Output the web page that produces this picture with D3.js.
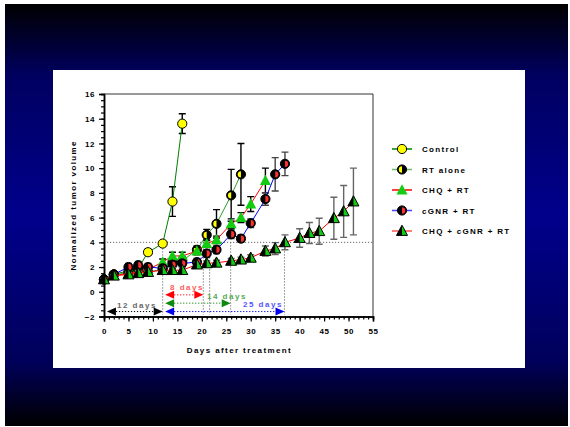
<!DOCTYPE html>
<html>
<head>
<meta charset="utf-8">
<script src="https://cdn.jsdelivr.net/npm/d3@7"></script>
<style>
  html, body { margin: 0; padding: 0; background: #fff; }
  svg { display: block; }
  text { font-family: "Liberation Sans", Arial, sans-serif; font-weight: bold; }
</style>
</head>
<body>
<div id="chart"></div>
<script>
// measurement days (Mon / Wed / Fri schedule)
const days = [0, 2, 5, 7, 9, 12, 14, 16, 19, 21, 23, 26, 28, 30, 33, 35, 37, 40, 42, 44, 47, 49, 51];

const controlMean = [1.0, 1.4, 1.7, 1.9, 3.2, 3.9, 7.3, 13.6];
const controlErr  = [0.1, 0.15, 0.2, 0.2, 0.25, 0.2, 1.2, 0.8];

const rtMean = [1.0, 1.4, 1.5, 1.8, 1.6, 1.8, 2.4, 2.5, 3.4, 4.6, 5.5, 7.8, 9.5];
const rtErr  = [0.1, 0.15, 0.25, 0.3, 0.25, 0.25, 0.3, 0.35, 0.3, 0.45, 1.15, 2.1, 2.5];

const chqMean = [1.0, 1.3, 1.5, 1.6, 1.8, 2.4, 2.9, 2.9, 3.3, 3.9, 4.2, 5.5, 6.0, 7.1, 9.0];
const chqErr  = [0.1, 0.15, 0.2, 0.2, 0.2, 0.25, 0.3, 0.3, 0.3, 0.3, 0.3, 0.4, 0.4, 0.6, 1.0];

const cgnrMean = [1.0, 1.4, 2.0, 2.15, 2.0, 1.9, 2.2, 2.3, 2.4, 3.1, 3.4, 4.65, 4.3, 5.55, 7.5, 9.5, 10.35];
const cgnrErr  = [0.1, 0.15, 0.3, 0.3, 0.3, 0.3, 0.3, 0.3, 0.3, 0.3, 0.3, 0.35, 0.3, 0.35, 0.5, 1.35, 0.95];

const tripleMean = [1.0, 1.3, 1.4, 1.5, 1.6, 1.75, 1.75, 1.75, 2.2, 2.3, 2.35, 2.5, 2.6, 2.75,
                    3.3, 3.5, 4.0, 4.35, 4.75, 4.9, 5.95, 6.5, 7.3];
const tripleErr  = [0.1, 0.1, 0.15, 0.15, 0.15, 0.2, 0.2, 0.2, 0.2, 0.2, 0.2, 0.2, 0.2, 0.25,
                    0.4, 0.48, 0.6, 0.75, 0.85, 1.05, 1.7, 2.1, 2.7];

const seriesNames = ["Control", "RT alone", "CHQ + RT", "cGNR + RT", "CHQ + cGNR + RT"];

// doubling-time annotations: [start day, end day, y level, label]
const spans = [
  { from: 0.6,  to: 12,   y: -1.6,  label: "12 days" },
  { from: 12.5, to: 20.3, y: -0.25, label: "8 days" },
  { from: 12.5, to: 25.9, y: -0.92, label: "14 days" },
  { from: 12.5, to: 36.9, y: -1.6,  label: "25 days" }
];
const crossDays = [12, 20.3, 21.6, 25.9, 36.9];
const threshold = 4;

const W = 570, H = 427;

const svg = d3.select("#chart").append("svg")
  .attr("width", W)
  .attr("height", H);

// background gradient + white panel
const grad = svg.append("defs").append("linearGradient")
  .attr("id", "bg").attr("x1", 0).attr("y1", 0).attr("x2", 0).attr("y2", 1);
grad.append("stop").attr("offset", "0%").attr("stop-color", "#000000");
grad.append("stop").attr("offset", "17%").attr("stop-color", "#000060");
grad.append("stop").attr("offset", "50%").attr("stop-color", "#00008c");
grad.append("stop").attr("offset", "85%").attr("stop-color", "#00005a");
grad.append("stop").attr("offset", "100%").attr("stop-color", "#000000");

svg.append("rect").attr("x", 5).attr("y", 4).attr("width", 563).attr("height", 422)
  .attr("fill", "url(#bg)");
svg.append("rect").attr("x", 53).attr("y", 70).attr("width", 472).attr("height", 298)
  .attr("fill", "#fff");

const x = d3.scaleLinear().domain([0, 55]).range([104, 373]);
const y = d3.scaleLinear().domain([-2, 16]).range([316.5, 94]);

const series = [
  { name: seriesNames[0], mean: controlMean, err: controlErr, line: "#008000", marker: "circle", fill: "#ffff00", bar: "#000" },
  { name: seriesNames[1], mean: rtMean, err: rtErr, line: "#2e9a2e", legendLine: "#6cb86c", marker: "halfCircle", fill: "#ffff00", bar: "#000" },
  { name: seriesNames[2], mean: chqMean, err: chqErr, line: "#ff0000", marker: "triangle", fill: "#11cc11", bar: "#000" },
  { name: seriesNames[3], mean: cgnrMean, err: cgnrErr, line: "#0000ff", legendLine: "#4444ff", marker: "halfCircleR", fill: "#ff3030", bar: "#444" },
  { name: seriesNames[4], mean: tripleMean, err: tripleErr, line: "#ff0000", legendLine: "#ff5050", marker: "halfTriangle", fill: "#11cc11", bar: "#666" }
];

/**
 * drawMarker(g, s, cx, cy):
 * Draws one symbol for a series at pixel position (cx, cy).
 */
function drawMarker(g, s, cx, cy) {
  const r = 4.6;
  const m = g.append("g").attr("transform", `translate(${cx},${cy})`);
  if (s.marker === "circle") {
    m.append("circle").attr("r", r).attr("fill", s.fill).attr("stroke", "#000").attr("stroke-width", 1);
  } else if (s.marker === "halfCircle" || s.marker === "halfCircleR") {
    m.append("circle").attr("r", r).attr("fill", "#000").attr("stroke", "#000").attr("stroke-width", 1);
    const arc = d3.arc().innerRadius(0).outerRadius(r - 1.4);
    // RT alone: yellow on the left, cGNR: red on the right
    const a = s.marker === "halfCircle" ? [Math.PI, 2 * Math.PI] : [0, Math.PI];
    m.append("path")
      .attr("d", arc({ startAngle: a[0], endAngle: a[1] }))
      .attr("fill", s.fill);
  } else {
    const tri = [[0, -5.8], [-5.5, 4.4], [5.5, 4.4]];
    if (s.marker === "triangle") {
      m.append("path").attr("d", d3.line()(tri) + "Z").attr("fill", s.fill);
    } else {
      m.append("path").attr("d", d3.line()(tri) + "Z").attr("fill", s.fill);
      m.append("path").attr("d", d3.line()([[0, -5.8], [-5.5, 4.4], [0, 4.4]]) + "Z").attr("fill", "#000");
      m.append("path").attr("d", d3.line()(tri) + "Z")
        .attr("fill", "none").attr("stroke", "#000").attr("stroke-width", 1);
    }
  }
}

// axes
function drawAxes() {
  const xAxis = d3.axisBottom(x).tickValues(d3.range(0, 56, 5)).tickSize(5).tickPadding(7);
  const xMinor = d3.axisBottom(x).tickValues(d3.range(0, 56, 1)).tickSize(3).tickFormat("");
  const yAxis = d3.axisLeft(y).tickValues(d3.range(-2, 17, 2)).tickSize(5).tickPadding(4);
  const yMinor = d3.axisLeft(y).tickValues(d3.range(-2, 16.1, 0.5)).tickSize(3).tickFormat("");

  const gx = svg.append("g").attr("transform", `translate(0,${y(-2)})`);
  gx.append("g").call(xMinor);
  gx.append("g").call(xAxis);
  const gy = svg.append("g").attr("transform", `translate(${x(0)},0)`);
  gy.append("g").call(yMinor);
  gy.append("g").call(yAxis);

  svg.selectAll(".domain").attr("stroke", "#000").attr("stroke-width", 1.5);
  svg.selectAll(".tick line").attr("stroke", "#000").attr("stroke-width", 1.2);
  svg.selectAll(".tick text")
    .attr("font-size", 8)
    .attr("font-weight", "bold")
    .attr("fill", "#000")
    .style("letter-spacing", "0.6px");

  // top and right frame
  svg.append("path")
    .attr("d", `M${x(0)},${y(16)}H${x(55)}V${y(-2)}`)
    .attr("fill", "none").attr("stroke", "#333").attr("stroke-width", 1);

  svg.append("text")
    .attr("transform", `translate(76,${(y(16) + y(-2)) / 2}) rotate(-90)`)
    .attr("text-anchor", "middle")
    .attr("font-size", 8)
    .style("letter-spacing", "1.4px")
    .text("Normalized tumor volume");

  svg.append("text")
    .attr("x", (x(0) + x(55)) / 2 + 1)
    .attr("y", 353)
    .attr("text-anchor", "middle")
    .attr("font-size", 8)
    .style("letter-spacing", "1.4px")
    .text("Days after treatment");
}

// threshold and crossing guide lines
function drawGuides() {
  const g = svg.append("g").attr("stroke", "#666").attr("stroke-width", 1).attr("stroke-dasharray", "1.2,1.8");
  g.append("line").attr("x1", x(0)).attr("x2", x(55)).attr("y1", y(threshold)).attr("y2", y(threshold));
  crossDays.forEach(d => {
    g.append("line").attr("x1", x(d)).attr("x2", x(d))
      .attr("y1", y(threshold)).attr("y2", y(-1.85));
  });
}

function drawSpans() {
  const colors = ["#000", "#ff0000", "#118811", "#0000ee"];
  const textColors = ["#666", "#ff5c5c", "#55aa55", "#5555ff"];
  const head = 9, half = 4;
  spans.forEach((s, i) => {
    const x1 = x(s.from), x2 = x(s.to), yy = y(s.y);
    const g = svg.append("g");
    g.append("line").attr("x1", x1 + head).attr("x2", x2 - head).attr("y1", yy).attr("y2", yy)
      .attr("stroke", colors[i]).attr("stroke-width", 1).attr("stroke-dasharray", "1.2,1.8");
    g.append("path").attr("d", `M${x1},${yy}L${x1 + head},${yy - half}L${x1 + head},${yy + half}Z`).attr("fill", colors[i]);
    g.append("path").attr("d", `M${x2},${yy}L${x2 - head},${yy - half}L${x2 - head},${yy + half}Z`).attr("fill", colors[i]);
  });
  const labelPos = [[117, 307.5], [170, 290], [207, 298.5], [243, 307]];
  spans.forEach((s, i) => {
    svg.append("text")
      .attr("x", labelPos[i][0]).attr("y", labelPos[i][1])
      .attr("font-size", 8)
      .attr("fill", textColors[i])
      .style("letter-spacing", "1.5px")
      .text(s.label);
  });
}

function drawSeries() {
  series.forEach(s => {
    const pts = s.mean.map((v, i) => ({ d: days[i], v, e: s.err[i] }));
    const g = svg.append("g");
    // error bars
    pts.forEach(p => {
      const bx = x(p.d), top = y(p.v + p.e), bot = y(p.v - p.e);
      g.append("path")
        .attr("d", `M${bx},${top}V${bot}M${bx - 3.5},${top}H${bx + 3.5}M${bx - 3.5},${bot}H${bx + 3.5}`)
        .attr("fill", "none").attr("stroke", s.bar).attr("stroke-width", 1.4);
    });
    g.append("path")
      .datum(pts)
      .attr("d", d3.line().x(p => x(p.d)).y(p => y(p.v)))
      .attr("fill", "none")
      .attr("stroke", s.line)
      .attr("stroke-width", 1);
    pts.forEach(p => drawMarker(g, s, x(p.d), y(p.v)));
  });
}

function drawLegend() {
  const ly = d3.scalePoint().domain(seriesNames).range([149, 231]);
  series.forEach(s => {
    const yy = ly(s.name);
    svg.append("line").attr("x1", 392).attr("x2", 412).attr("y1", yy).attr("y2", yy)
      .attr("stroke", s.legendLine || s.line).attr("stroke-width", 1.5);
    drawMarker(svg, s, 402, yy);
    svg.append("text")
      .attr("x", 422).attr("y", yy + 3)
      .attr("font-size", 8)
      .style("letter-spacing", "1.3px")
      .text(s.name);
  });
}

drawGuides();
drawSpans();
drawSeries();
drawAxes();
drawLegend();
</script>
</body>
</html>
